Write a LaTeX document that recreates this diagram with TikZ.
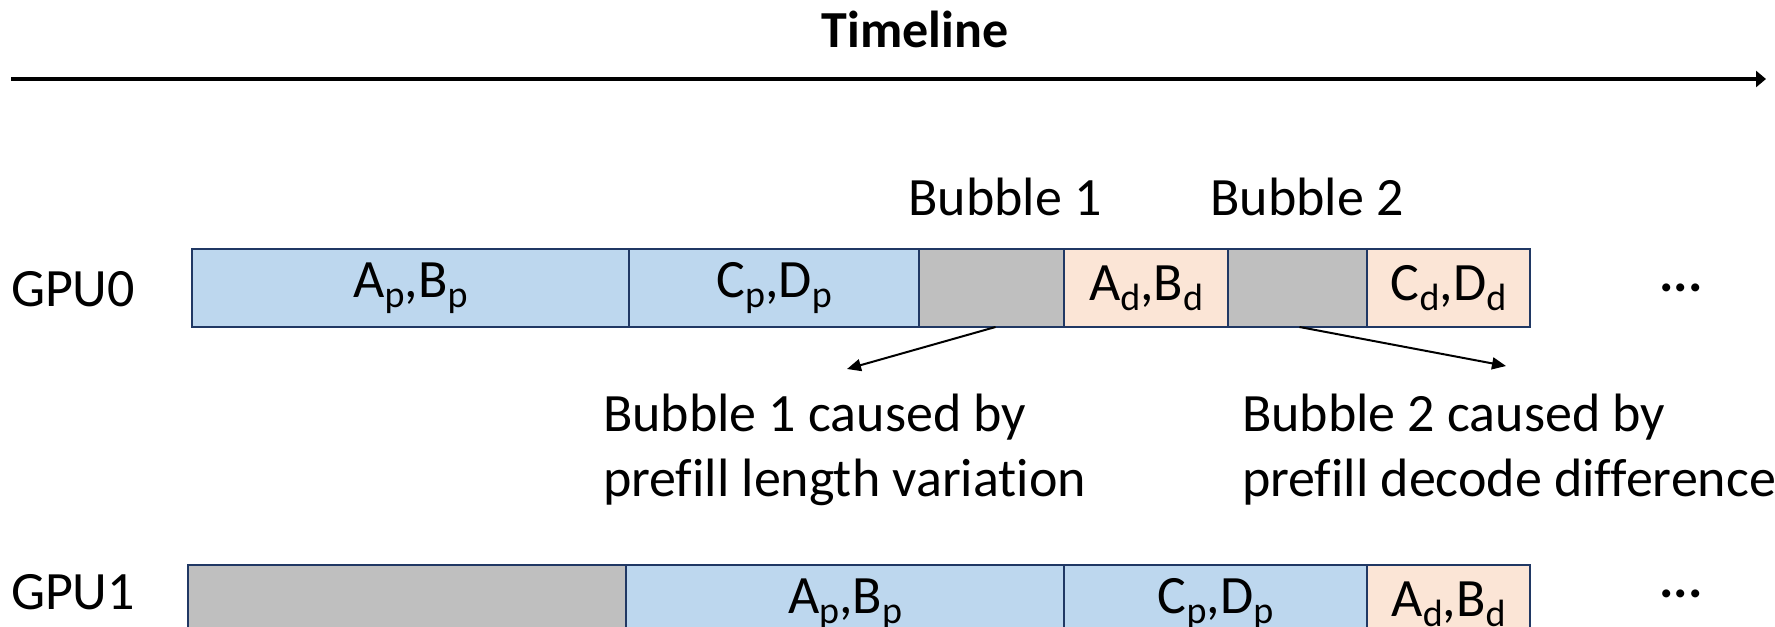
\documentclass[tikz,border=0pt]{standalone}
\usepackage{fontspec}
\setmainfont{Carlito}[Ligatures=NoCommon]
\usetikzlibrary{arrows.meta,calc}
\definecolor{pblue}{HTML}{BDD7EE}
\definecolor{dpeach}{HTML}{FBE5D6}
\definecolor{bgray}{HTML}{BFBFBF}
\definecolor{edgec}{HTML}{203864}
\newcommand\sbx[1]{\raisebox{-5pt}{\fontsize{19}{20}\selectfont #1}}
\begin{document}
\begin{tikzpicture}[x=0.5pt,y=-0.5pt,
  txt/.style={font=\fontsize{27}{32.3}\selectfont, inner sep=0pt, outer sep=0pt},
  blk/.style={draw=edgec, line width=1pt, anchor=north west, inner sep=0pt, outer sep=0pt,
              minimum height=39pt, font=\fontsize{27}{32.3}\selectfont},
  pre/.style={blk, fill=pblue},
  dec/.style={blk, fill=dpeach},
  bub/.style={blk, fill=bgray},
  callout/.style={line width=1pt, -{Triangle[length=7pt,width=6pt]}}]
\clip (0,0) rectangle (1775,626);
\fill[white] (0,0) rectangle (1775,626);
% title and timeline
\node[txt, font=\fontsize{26}{31}\selectfont\bfseries, anchor=base] (title) at (915,48) {Timeline};
\coordinate (tl0) at (11,79);
\coordinate (tl1) at (1766,79);
\draw[line width=1.6pt, -{Triangle[length=5pt,width=8pt]}] (tl0) -- (tl1);
% row labels
\node[txt, anchor=base west] (gpu0) at (11,306) {GPU0};
\node[txt, anchor=base west] (gpu1) at (11,609) {GPU1};
% GPU0 row
\node[pre, minimum width=218.5pt] (a0) at (192,249) {A\sbx{p},B\sbx{p}};
\node[pre, minimum width=145pt] (c0) at (629,249) {C\sbx{p},D\sbx{p}};
\node[bub, minimum width=72.5pt] (g1) at (919,249) {};
\node[dec, minimum width=82pt] (ad0) at (1064,249) {A\sbx{d},B\sbx{d}};
\node[bub, minimum width=69.5pt] (g2) at (1228,249) {};
\node[dec, minimum width=81.5pt] (cd0) at (1367,249) {C\sbx{d},D\sbx{d}};
\node[txt, font=\fontsize{27}{32.3}\selectfont\bfseries, anchor=base] (dots0) at (1681,291) {...};
% GPU1 row
\node[bub, minimum width=219pt] (g3) at (188,565) {};
\node[pre, minimum width=219pt] (a1) at (626,565) {A\sbx{p},B\sbx{p}};
\node[pre, minimum width=151.5pt] (c1) at (1064,565) {C\sbx{p},D\sbx{p}};
\node[dec, minimum width=81.5pt] (ad1) at (1367,565) {A\sbx{d},B\sbx{d}};
\node[txt, font=\fontsize{27}{32.3}\selectfont\bfseries, anchor=base] (dots1) at (1681,597) {...};
% bubble labels
\node[txt, anchor=base] (b1) at (1005,215) {Bubble 1};
\node[txt, anchor=base] (b2) at (1307,215) {Bubble 2};
% callouts
\node[txt, anchor=base west, align=left] (n1) at (603,496) {Bubble 1 caused by\\prefill length variation};
\node[txt, anchor=base west, align=left] (n2) at (1242,496) {Bubble 2 caused by\\prefill decode difference};
\coordinate (e1) at (847,369);
\coordinate (e2) at (1506,366);
\draw[callout] ($(g1.south)+(4,0)$) -- (e1);
\draw[callout] ($(g2.south)+(2,0)$) -- (e2);
\end{tikzpicture}
\end{document}
